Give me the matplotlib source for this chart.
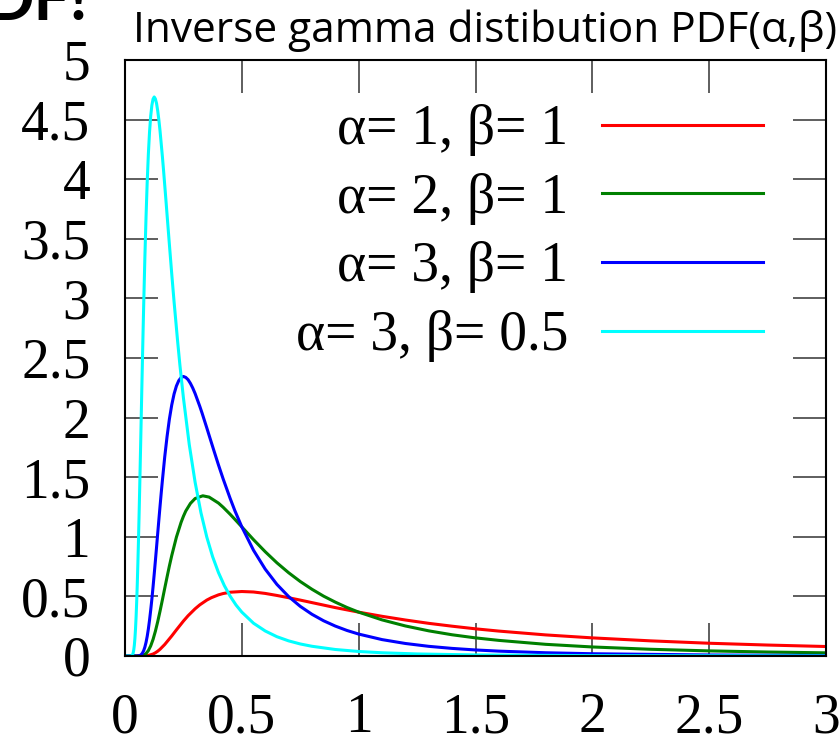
import matplotlib
matplotlib.use("Agg")
import matplotlib.pyplot as plt

# values
x1 = [0, 0.05, 0.08, 0.1, 0.12, 0.13, 0.14, 0.15, 0.17, 0.2, 0.22, 0.25, 0.27, 0.3, 0.32,
      0.35, 0.37, 0.4, 0.42, 0.45, 0.5, 0.55, 0.6, 0.65, 0.7, 0.75, 0.8, 0.9, 1.0, 1.1,
      1.2, 1.3, 1.4, 1.5, 1.6, 1.8, 2.0, 2.25, 2.5, 2.75, 3.0]
y1 = [0, 0, 0.0006, 0.0045, 0.0167, 0.027, 0.0403, 0.0566, 0.0965, 0.168, 0.219, 0.293,
      0.338, 0.396, 0.429, 0.469, 0.4895, 0.513, 0.524, 0.535, 0.541, 0.537, 0.525, 0.508,
      0.489, 0.469, 0.448, 0.406, 0.368, 0.333, 0.302, 0.274, 0.250, 0.228, 0.209, 0.177,
      0.152, 0.127, 0.107, 0.0919, 0.0796]

x2 = [0, 0.05, 0.08, 0.09, 0.1, 0.11, 0.12, 0.13, 0.14, 0.15, 0.16, 0.17, 0.18, 0.19, 0.2,
      0.22, 0.24, 0.25, 0.26, 0.28, 0.3, 0.333, 0.36, 0.4, 0.42, 0.45, 0.47, 0.5, 0.55, 0.6,
      0.65, 0.7, 0.75, 0.8, 0.85, 0.9, 0.95, 1.0, 1.1, 1.2, 1.3, 1.4, 1.5, 1.6, 1.8, 2.0,
      2.25, 2.5, 2.75, 3.0]
y2 = [0, 0, 0.0073, 0.0205, 0.0454, 0.0847, 0.139, 0.2076, 0.288, 0.377, 0.471, 0.568,
      0.663, 0.756, 0.842, 0.997, 1.121, 1.172, 1.216, 1.280, 1.321, 1.344, 1.333, 1.283,
      1.248, 1.189, 1.147, 1.083, 0.976, 0.875, 0.782, 0.699, 0.625, 0.560, 0.502, 0.452,
      0.407, 0.368, 0.303, 0.252, 0.211, 0.178, 0.152, 0.131, 0.098, 0.0758, 0.0563,
      0.0429, 0.0334, 0.0265]

x3 = [0, 0.05, 0.06, 0.065, 0.07, 0.075, 0.08, 0.085, 0.09, 0.095, 0.1, 0.105, 0.11, 0.115,
      0.12, 0.125, 0.13, 0.135, 0.14, 0.145, 0.15, 0.155, 0.16, 0.17, 0.18, 0.19, 0.2, 0.21,
      0.22, 0.23, 0.24, 0.25, 0.26, 0.27, 0.28, 0.29, 0.3, 0.32, 0.33, 0.35, 0.36, 0.38, 0.4,
      0.42, 0.45, 0.47, 0.5, 0.55, 0.6, 0.65, 0.7, 0.75, 0.8, 0.85, 0.9, 0.95, 1.0, 1.1, 1.2,
      1.3, 1.4, 1.5, 1.6, 1.8, 2.0, 2.5, 3.0]
y3 = [0, 0.0002, 0.0022, 0.0058, 0.013, 0.0256, 0.0455, 0.0745, 0.114, 0.1645, 0.227,
      0.3007, 0.385, 0.477, 0.579, 0.687, 0.798, 0.912, 1.029, 1.144, 1.257, 1.367, 1.472,
      1.670, 1.841, 1.988, 2.106, 2.198, 2.265, 2.310, 2.336, 2.345, 2.337, 2.318, 2.287,
      2.248, 2.202, 2.095, 2.037, 1.914, 1.851, 1.726, 1.603, 1.486, 1.322, 1.220, 1.083,
      0.887, 0.729, 0.601, 0.499, 0.4166, 0.350, 0.2955, 0.251, 0.2142, 0.184, 0.1376,
      0.105, 0.0811, 0.0637, 0.0507, 0.0408, 0.0273, 0.0190, 0.0086, 0.0044]

x4 = [0, 0.025, 0.03, 0.0325, 0.035, 0.0375, 0.04, 0.0425, 0.045, 0.0475, 0.05, 0.0525,
      0.055, 0.0575, 0.06, 0.0625, 0.065, 0.0675, 0.07, 0.0725, 0.075, 0.0775, 0.08, 0.085,
      0.09, 0.095, 0.1, 0.105, 0.11, 0.115, 0.12, 0.125, 0.13, 0.135, 0.14, 0.145, 0.15,
      0.16, 0.165, 0.175, 0.18, 0.19, 0.2, 0.21, 0.225, 0.235, 0.25, 0.275, 0.3, 0.325,
      0.35, 0.375, 0.4, 0.425, 0.45, 0.475, 0.5, 0.55, 0.6, 0.65, 0.7, 0.75, 0.8, 0.9, 1.0,
      1.1, 1.25, 1.5, 2.0, 3.0]
y4 = [0, 0.0004, 0.0044, 0.0116, 0.026, 0.0512, 0.091, 0.149, 0.228, 0.329,
      0.454, 0.601, 0.770, 0.954, 1.158, 1.374, 1.596, 1.824, 2.058, 2.288,
      2.514, 2.734, 2.944, 3.340, 3.682, 3.976, 4.212, 4.396, 4.530, 4.620,
      4.672, 4.690, 4.674, 4.636, 4.574, 4.496, 4.404, 4.190, 4.074, 3.828,
      3.702, 3.452, 3.206, 2.972, 2.644, 2.440, 2.166, 1.774, 1.458, 1.202,
      0.998, 0.833, 0.700, 0.591, 0.502, 0.428, 0.368, 0.275, 0.210, 0.162,
      0.127, 0.101, 0.0816, 0.0546, 0.038, 0.0271, 0.0172, 0.0089, 0.0030, 0.0006]

labels = ["α= 1, β= 1", "α= 2, β= 1", "α= 3, β= 1", "α= 3, β= 0.5"]
colors = ["#ff0000", "#008000", "#0000ff", "#00ffff"]
xticks = [0, 0.5, 1, 1.5, 2, 2.5, 3]
xticklabels = ["0", "0.5", "1", "1.5", "2", "2.5", "3"]
yticks = [0, 0.5, 1, 1.5, 2, 2.5, 3, 3.5, 4, 4.5, 5]
yticklabels = ["0", "0.5", "1", "1.5", "2", "2.5", "3", "3.5", "4", "4.5", "5"]

serif = ["Liberation Serif", "DejaVu Serif"]

fig = plt.figure(figsize=(8.39, 7.42), dpi=100)
ax = fig.add_axes([125/839, 86/742, 701/839, 596/742])

for xs, ys, c, lab in zip([x1, x2, x3, x4], [y1, y2, y3, y4], colors, labels):
    ax.plot(xs, ys, color=c, lw=2.2, label=lab, solid_joinstyle="round")

ax.set_xlim(0, 3)
ax.set_ylim(0, 5)
ax.set_xticks(xticks)
ax.set_xticklabels(xticklabels, family=serif, fontsize=40)
ax.set_yticks(yticks)
ax.set_yticklabels(yticklabels, family=serif, fontsize=40)
ax.tick_params(axis="both", direction="in", length=23.8, width=1.1, color="#333333",
               top=True, right=True)
ax.tick_params(axis="x", pad=26)
ax.tick_params(axis="y", pad=25)
for s in ax.spines.values():
    s.set_linewidth(1.5)

leg = ax.legend(loc="upper right", bbox_to_anchor=(0.910, 0.926), frameon=False,
                markerfirst=False, borderpad=0, borderaxespad=0,
                handlelength=2.9, handletextpad=0.6, labelspacing=0.30,
                prop={"family": serif, "size": 40})

fig.text(133/839, 1 - 42/742, "Inverse gamma distibution PDF(α,β)",
         family=["Open Sans", "DejaVu Sans"], fontsize=30.5, ha="left", va="baseline")
fig.text(88/839, 1 - 20/742, "DF!", family=["Lato", "DejaVu Sans"], fontweight="bold",
         fontsize=46, ha="right", va="baseline")

fig.savefig("out.png", dpi=100)
